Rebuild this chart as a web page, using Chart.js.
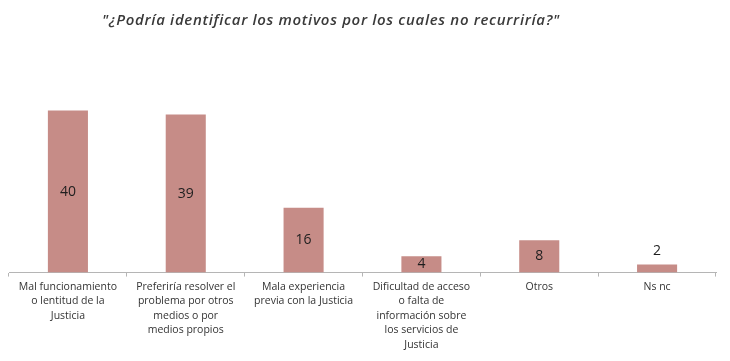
<!DOCTYPE html>
<html>
<head>
<meta charset="utf-8">
<script src="https://cdn.jsdelivr.net/npm/chart.js@4.4.0/dist/chart.umd.min.js"></script>
<style>
  html, body { margin: 0; padding: 0; background: #fff; }
  #wrap { width: 730px; height: 361px; }
</style>
</head>
<body>
<div id="wrap"><canvas id="c" width="730" height="361"></canvas></div>
<script>
const titleText = '"¿Podría identificar los motivos por los cuales no recurriría?"';
const categories = [
  ["Mal funcionamiento", "o lentitud de la", "Justicia"],
  ["Preferiría resolver el", "problema por otros", "medios o por", "medios propios"],
  ["Mala experiencia", "previa con la Justicia"],
  ["Dificultad de acceso", "o falta de", "información sobre", "los servicios de", "Justicia"],
  ["Otros"],
  ["Ns nc"]
];
const values = [40, 39, 16, 4, 8, 2];

const titlePlugin = {
  id: 'titlePlugin',
  afterDraw(chart) {
    const ctx = chart.ctx;
    ctx.save();
    ctx.font = 'italic 600 15px "Open Sans"';
    const w = ctx.measureText(titleText).width;
    const extra = (457 - w) / (titleText.length - 1);
    if ('letterSpacing' in ctx) ctx.letterSpacing = extra.toFixed(2) + 'px';
    ctx.fillStyle = '#3a3a3a';
    ctx.textAlign = 'center';
    ctx.textBaseline = 'middle';
    ctx.fillText(titleText, 331, 21);
    ctx.restore();
  }
};

const valueLabels = {
  id: 'valueLabels',
  afterDatasetsDraw(chart) {
    const ctx = chart.ctx;
    const meta = chart.getDatasetMeta(0);
    ctx.save();
    ctx.font = '500 14px "Open Sans"';
    ctx.fillStyle = '#1e1e1e';
    ctx.textAlign = 'center';
    ctx.textBaseline = 'middle';
    meta.data.forEach((bar, i) => {
      const v = values[i];
      const h = bar.base - bar.y;
      let y = (bar.y + bar.base) / 2;
      if (h < 12) y = bar.y - 13;
      ctx.fillText(String(v), bar.x, y);
    });
    ctx.restore();
  }
};

new Chart(document.getElementById('c'), {
  type: 'bar',
  data: {
    labels: categories,
    datasets: [{
      data: values,
      backgroundColor: '#c68c87',
      borderWidth: 0,
      barPercentage: 0.34,
      categoryPercentage: 1.0
    }]
  },
  options: {
    responsive: false,
    animation: false,
    devicePixelRatio: 1,
    layout: { padding: { left: 9, right: 14, top: 70, bottom: 6 } },
    plugins: {
      legend: { display: false },
      tooltip: { enabled: false },
      title: { display: false }
    },
    scales: {
      x: {
        offset: true,
        border: { display: true, color: '#b5b5b5', width: 1 },
        grid: {
          offset: true,
          drawOnChartArea: false,
          drawTicks: true,
          tickLength: 4,
          color: '#b5b5b5'
        },
        ticks: {
          color: '#333',
          padding: 3,
          maxRotation: 0,
          autoSkip: false,
          font: { family: '"Open Sans"', size: 10.5, lineHeight: 1.38 }
        }
      },
      y: {
        display: false,
        min: 0,
        max: 50
      }
    }
  },
  plugins: [valueLabels, titlePlugin]
});
</script>
</body>
</html>
